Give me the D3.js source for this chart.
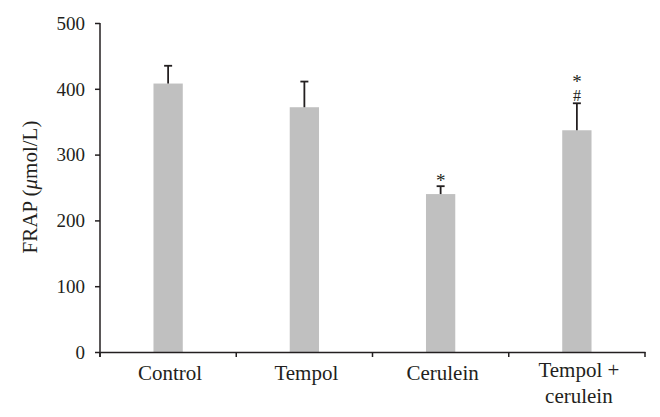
<!DOCTYPE html>
<html>
<head>
<meta charset="utf-8">
<script src="https://cdn.jsdelivr.net/npm/d3@7"></script>
<style>
  html, body { margin: 0; padding: 0; background: #fff; }
  svg { display: block; }
  text { font-family: "Liberation Serif", "Times New Roman", serif; fill: #231f20; }
</style>
</head>
<body>
<svg id="chart" width="660" height="417"></svg>
<script>
const categories = ["Control", "Tempol", "Cerulein", "Tempol +\ncerulein"];
const values = [408, 372, 240, 337];
const errors = [27, 39, 12, 41];
const markers = ["", "", "*", "*\n#"];
const yTicks = [0, 100, 200, 300, 400, 500];
const yLabel = "FRAP (";
const yUnit = "μ";
const yLabelRest = "mol/L)";

(function () {
const svg = d3.select("#chart");
const W = 660, H = 417;
const mLeft = 100, mRight = 645, mTop = 23, mBottom = 352;

const x = d3.scaleBand().domain(categories).range([mLeft, mRight]).padding(0);
const y = d3.scaleLinear().domain([0, 500]).range([mBottom, mTop]);

// bars
const bw = x.bandwidth() * 0.215;
svg.append("g").selectAll("rect").data(categories).join("rect")
  .attr("x", (d) => x(d) + x.bandwidth() / 2 - bw / 2)
  .attr("y", (d, i) => y(values[i]))
  .attr("width", bw)
  .attr("height", (d, i) => y(0) - y(values[i]))
  .attr("fill", "#c0c0c0");

// error bars (upper only)
const eg = svg.append("g").attr("stroke", "#231f20").attr("stroke-width", 1.8);
categories.forEach((c, i) => {
  const cx = x(c) + x.bandwidth() / 2;
  eg.append("line").attr("x1", cx).attr("x2", cx)
    .attr("y1", y(values[i])).attr("y2", y(values[i] + errors[i]));
  eg.append("line").attr("x1", cx - 4).attr("x2", cx + 4)
    .attr("y1", y(values[i] + errors[i])).attr("y2", y(values[i] + errors[i]));
});

// significance markers
categories.forEach((c, i) => {
  if (!markers[i]) return;
  const cx = x(c) + x.bandwidth() / 2;
  const errTop = y(values[i] + errors[i]);
  const lines = markers[i].split("\n");
  if (lines.length === 1) {
    svg.append("text").attr("x", cx).attr("y", errTop + 1)
      .attr("text-anchor", "middle").style("font-size", "19px").text(lines[0]);
  } else {
    svg.append("text").attr("x", cx).attr("y", errTop - 2)
      .attr("text-anchor", "middle").style("font-size", "16px").text(lines[1]);
    svg.append("text").attr("x", cx).attr("y", errTop - 15)
      .attr("text-anchor", "middle").style("font-size", "19px").text(lines[0]);
  }
});

// y axis
const yAxis = d3.axisLeft(y).tickValues(yTicks).tickSize(5).tickSizeOuter(0).tickPadding(10);
const gy = svg.append("g").attr("transform", `translate(${mLeft},0)`).call(yAxis);
gy.select(".domain").remove();
gy.selectAll(".tick line").attr("stroke", "#231f20").attr("stroke-width", 1.5);
gy.selectAll(".tick text").style("font-size", "19px").style("font-family", '"Liberation Serif", serif').attr("fill", "#231f20").attr("dy", "0.33em");
svg.append("line").attr("x1", mLeft).attr("x2", mLeft).attr("y1", mTop).attr("y2", mBottom + 5)
  .attr("stroke", "#231f20").attr("stroke-width", 1.5);

// x axis
const xAxis = d3.axisBottom(x).tickSize(0).tickSizeOuter(0).tickFormat("");
const gx = svg.append("g").attr("transform", `translate(0,${mBottom})`).call(xAxis);
gx.select(".domain").attr("stroke", "#231f20").attr("stroke-width", 1.5);
const bounds = categories.map((c) => x(c)).concat([x.range()[1]]);
gx.selectAll("line.bound").data(bounds).join("line").attr("class", "bound")
  .attr("x1", (d) => d).attr("x2", (d) => d).attr("y1", 0).attr("y2", 5)
  .attr("stroke", "#231f20").attr("stroke-width", 1.5);

// x labels
categories.forEach((c) => {
  const lines = c.split("\n");
  const cx = x(c) + x.bandwidth() / 2 + 2;
  const t = svg.append("text").attr("text-anchor", "middle").style("font-size", "21px");
  const y0 = lines.length > 1 ? 377 : 380;
  lines.forEach((l, k) => {
    t.append("tspan").attr("x", cx).attr("y", y0 + k * 26).text(l);
  });
});

// y label
const yl = svg.append("text")
  .attr("transform", "translate(37,187) rotate(-90)")
  .attr("text-anchor", "middle")
  .style("font-size", "21px");
yl.append("tspan").text(yLabel);
yl.append("tspan").style("font-style", "italic").text(yUnit);
yl.append("tspan").text(yLabelRest);

// bottom crop of the reference image
svg.append("rect").attr("x", 0).attr("y", 403).attr("width", W).attr("height", H - 403).attr("fill", "#fff");
})();
</script>
</body>
</html>
